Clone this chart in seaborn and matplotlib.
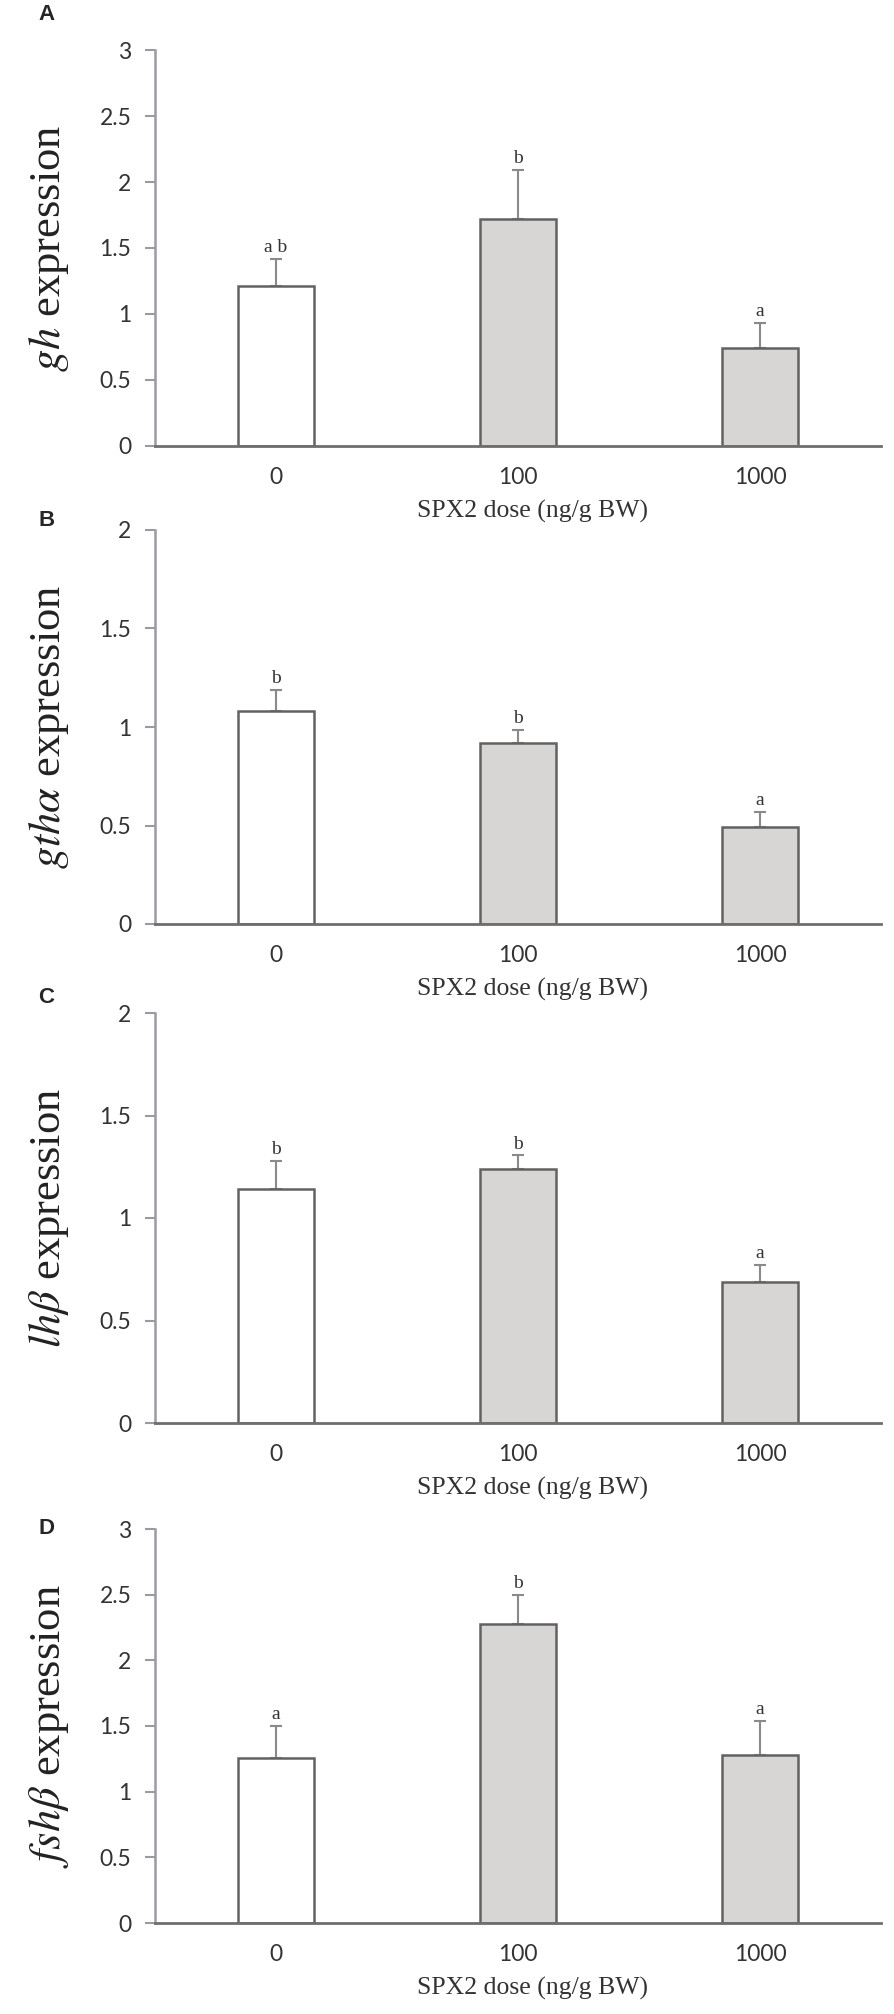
# Libraries
import numpy as np
import pandas as pd
import seaborn as sns
import matplotlib.pyplot as plt

# Data
doses = ['0', '100', '1000']

gh_mean = [1.21, 1.72, 0.74]
gh_se = [0.21, 0.37, 0.19]
gh_letters = ['a b', 'b', 'a']

gtha_mean = [1.08, 0.92, 0.49]
gtha_se = [0.11, 0.065, 0.08]
gtha_letters = ['b', 'b', 'a']

lhb_mean = [1.14, 1.24, 0.69]
lhb_se = [0.14, 0.065, 0.08]
lhb_letters = ['b', 'b', 'a']

fshb_mean = [1.26, 2.28, 1.28]
fshb_se = [0.24, 0.22, 0.26]
fshb_letters = ['a', 'b', 'a']

panels = [
    ('A', r'$\mathit{gh}$ expression', gh_mean, gh_se, gh_letters, 3),
    ('B', r'$\mathit{gth\alpha}$ expression', gtha_mean, gtha_se, gtha_letters, 2),
    ('C', r'$\mathit{lh\beta}$ expression', lhb_mean, lhb_se, lhb_letters, 2),
    ('D', r'$\mathit{fsh\beta}$ expression', fshb_mean, fshb_se, fshb_letters, 3),
]

# axes boxes in pixels: (top, bottom)
boxes = [(50, 446), (530, 924), (1013, 1423), (1529, 1923)]
label_y = [15, 520, 998, 1528]

sns.set_style('white')
plt.rcParams['mathtext.fontset'] = 'stix'

W, H = 894, 2014
fig = plt.figure(figsize=(W / 100, H / 100), dpi=100)

left, right = 155, 881
palette = ['#ffffff', '#d9d5d4', '#d9d5d4']

for (letter, ylab, means, ses, sig, ymax), (top, bot), ly in zip(panels, boxes, label_y):
    ax = fig.add_axes([left / W, 1 - bot / H, (right - left) / W, (bot - top) / H])
    df = pd.DataFrame({'dose': doses, 'expr': means})
    sns.barplot(data=df, x='dose', y='expr', hue='dose', palette=palette,
                legend=False, width=0.31, edgecolor='#626262', linewidth=1.8,
                errorbar=None, ax=ax, zorder=2)
    x = np.arange(len(doses))
    ax.errorbar(x, means, yerr=[np.zeros(len(ses)), ses], fmt='none',
                ecolor='#8a8a8a', elinewidth=1.5, capsize=4, capthick=1.5, zorder=1)
    for xi, m, s, t in zip(x, means, ses, sig):
        ax.annotate(t, (xi, m + s), xytext=(0, 2), textcoords='offset points',
                    ha='center', va='bottom', fontsize=14,
                    family='Liberation Serif', color='#333333')

    ax.set_xlim(-0.5, 2.5)
    ax.set_ylim(0, ymax)
    ax.set_yticks(np.arange(0, ymax + 0.01, 0.5))
    ax.set_yticklabels([f'{v:g}' for v in np.arange(0, ymax + 0.01, 0.5)])

    for s in ['top', 'right']:
        ax.spines[s].set_visible(False)
    ax.spines['left'].set_color('#9a9aa2')
    ax.spines['left'].set_linewidth(1.8)
    ax.spines['bottom'].set_color('#6e6e6e')
    ax.spines['bottom'].set_linewidth(2)

    ax.tick_params(axis='y', length=7, width=1.5, color='#9a9aa2', pad=10,
                   labelsize=16.5, labelcolor='#333333', left=True)
    ax.tick_params(axis='x', length=0, pad=15, labelsize=16.5, labelcolor='#333333')
    for t in ax.get_xticklabels() + ax.get_yticklabels():
        t.set_family(['Lato', 'DejaVu Sans'])

    ax.set_ylabel(ylab, fontsize=32, family='Liberation Serif', color='#222222', va='center')
    ax.yaxis.set_label_coords((49 - left) / (right - left), 0.5)
    ax.set_xlabel('SPX2 dose (ng/g BW)', fontsize=18.5, family='Liberation Serif',
                  color='#333333', va='center')
    ax.xaxis.set_label_coords(0.52, -65 / (bot - top))

    fig.text(38 / W, 1 - ly / H, letter, fontsize=16, fontweight='bold',
             family='Liberation Sans', va='center', ha='left')

plt.savefig('out.png', dpi=100)
